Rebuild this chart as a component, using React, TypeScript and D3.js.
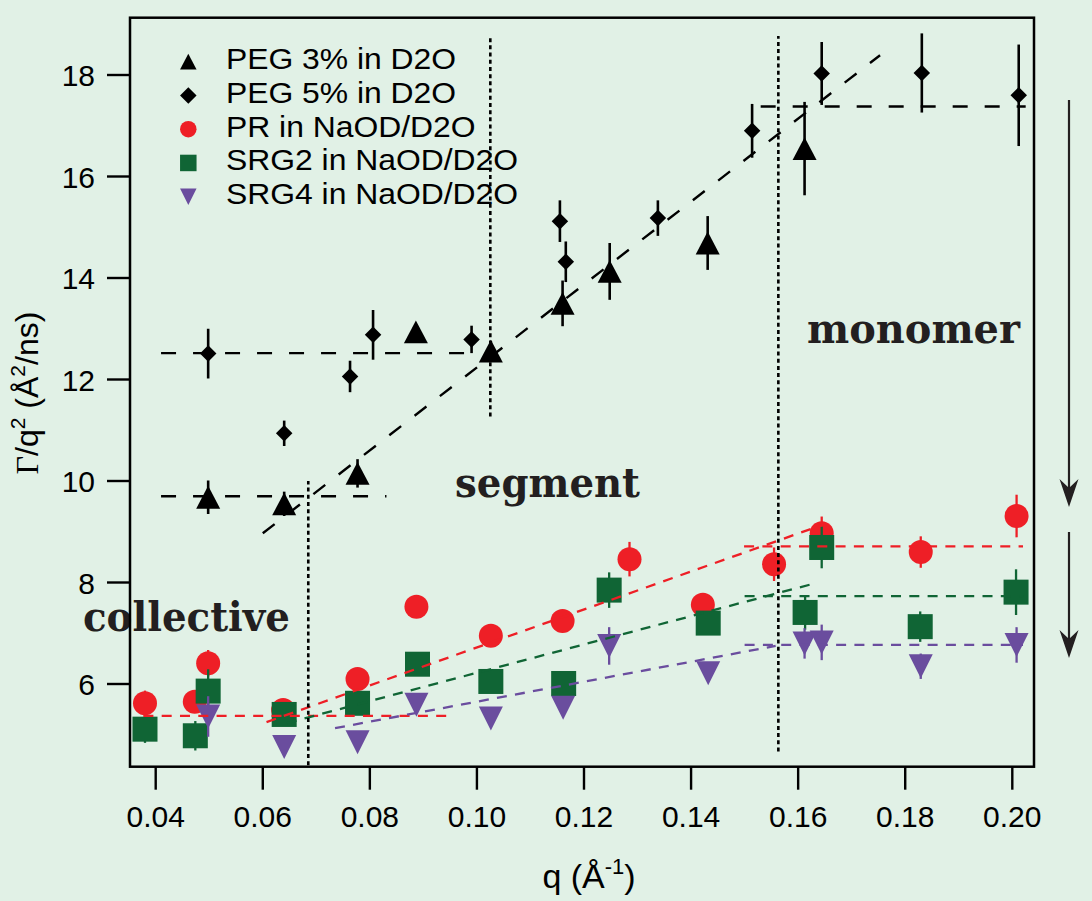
import React from "react";
import * as d3 from "d3";

// ---------- data ----------
const peg3Q = [0.0498, 0.064, 0.0777, 0.0886, 0.1026, 0.116, 0.1248, 0.1431, 0.1612];
const peg3V = [9.68, 9.55, 10.15, 12.94, 12.56, 13.5, 14.13, 14.69, 16.55];
const peg3E = [0.33, 0.24, 0.28, 0.0, 0.2, 0.45, 0.56, 0.53, 0.92];

const peg5Q = [0.0498, 0.064, 0.0763, 0.0806, 0.099, 0.1155, 0.1166, 0.1338, 0.1514, 0.1644, 0.1831, 0.2012];
const peg5V = [12.51, 10.94, 12.06, 12.88, 12.79, 15.12, 14.32, 15.18, 16.9, 18.03, 18.04, 17.6];
const peg5E = [0.49, 0.25, 0.31, 0.49, 0.27, 0.41, 0.4, 0.35, 0.53, 0.62, 0.78, 1.0];

const prQ = [0.038, 0.0473, 0.0498, 0.0638, 0.0777, 0.0887, 0.1026, 0.116, 0.1285, 0.1422, 0.1555, 0.1644, 0.1829, 0.2008];
const prV = [5.62, 5.65, 6.41, 5.49, 6.1, 7.52, 6.95, 7.24, 8.46, 7.56, 8.36, 8.97, 8.6, 9.31];
const prE = [0.25, 0.15, 0.26, 0.1, 0.15, 0.1, 0.1, 0.1, 0.34, 0.15, 0.33, 0.33, 0.31, 0.42];

const srg2Q = [0.038, 0.0474, 0.0498, 0.064, 0.0777, 0.0889, 0.1026, 0.1162, 0.1247, 0.1432, 0.1613, 0.1644, 0.1828, 0.2007];
const srg2V = [5.11, 4.98, 5.86, 5.4, 5.62, 6.39, 6.05, 6.01, 7.85, 7.2, 7.41, 8.69, 7.13, 7.81];
const srg2E = [0.27, 0.29, 0.43, 0.1, 0.1, 0.1, 0.1, 0.1, 0.35, 0.1, 0.34, 0.41, 0.3, 0.45];

const srg4Q = [0.0498, 0.064, 0.0777, 0.0887, 0.1026, 0.1161, 0.1247, 0.1432, 0.1612, 0.1644, 0.1829, 0.2008];
const srg4V = [5.36, 4.76, 4.85, 5.59, 5.32, 5.53, 6.75, 6.21, 6.8, 6.82, 6.35, 6.77];
const srg4E = [0.4, 0.1, 0.12, 0.1, 0.1, 0.1, 0.37, 0.1, 0.3, 0.35, 0.25, 0.35];

// fitted guide lines: [q1, v1, q2, v2]
const blackFits = [
  [0.041, 12.52, 0.099, 12.52],
  [0.041, 9.7, 0.0831, 9.7],
  [0.06, 8.97, 0.1753, 18.39],
  [0.153, 17.38, 0.2025, 17.38],
];
const redFits = [
  [0.0377, 5.37, 0.0956, 5.37],
  [0.0607, 5.25, 0.1644, 9.13],
  [0.1499, 8.71, 0.202, 8.71],
];
const greenFits = [
  [0.0645, 5.23, 0.163, 7.98],
  [0.15, 7.73, 0.202, 7.73],
];
const purpleFits = [
  [0.0735, 5.13, 0.1558, 6.75],
  [0.15, 6.77, 0.202, 6.77],
];
// vertical dotted boundaries: [q, vLow, vHigh]
const boundaries = [
  [0.1025, 11.27, 18.73],
  [0.0685, 4.4, 10.0],
  [0.1563, 4.67, 18.77],
];

const xTicks = [0.04, 0.06, 0.08, 0.1, 0.12, 0.14, 0.16, 0.18, 0.2];
const yTicks = [6, 8, 10, 12, 14, 16, 18];
const legendLabels = ["PEG 3% in D2O", "PEG 5% in D2O", "PR in NaOD/D2O", "SRG2 in NaOD/D2O", "SRG4 in NaOD/D2O"];
const regionLabels = ["collective", "segment", "monomer"];

// ---------- styles ----------
const W = 1092, H = 901;
const BG = "#e1f1e6";
const RED = "#ee1f26";
const GREEN = "#106535";
const PURPLE = "#6a4d9e";
const INK = "#231f20";
const SANS = "'Liberation Sans', Arial, Helvetica, sans-serif";
const SERIF = "'Liberation Serif', 'Times New Roman', serif";
const HEAVY = "'DejaVu Serif', 'Liberation Serif', serif";

const frame = { left: 130, right: 1034, top: 17.7, bottom: 766.7 };

const x = d3.scaleLinear().domain([0.04, 0.2]).range([155.7, 1012.3]);
const y = d3.scaleLinear().domain([6, 18]).range([684, 75]);

const triUp = (cx: number, cy: number, w: number, h: number) =>
  `M${cx - w / 2},${cy + h / 2}L${cx + w / 2},${cy + h / 2}L${cx},${cy - h / 2}Z`;
const triDown = (cx: number, cy: number, w: number, h: number) =>
  `M${cx - w / 2},${cy - h / 2}L${cx + w / 2},${cy - h / 2}L${cx},${cy + h / 2}Z`;
const diamond = (cx: number, cy: number, r: number) =>
  `M${cx},${cy - r}L${cx + r},${cy}L${cx},${cy + r}L${cx - r},${cy}Z`;

type Kind = "up" | "down" | "diamond" | "circle" | "square";

function Marker({ kind, cx, cy, s, color }: { kind: Kind; cx: number; cy: number; s: number; color: string }) {
  if (kind === "circle") return <circle cx={cx} cy={cy} r={s / 2} fill={color} />;
  if (kind === "square") return <rect x={cx - s / 2} y={cy - s / 2} width={s} height={s} fill={color} />;
  if (kind === "diamond") return <path d={diamond(cx, cy, s / 2)} fill={color} />;
  if (kind === "up") return <path d={triUp(cx, cy, s, s * 0.95)} fill={color} />;
  return <path d={triDown(cx, cy, s, s)} fill={color} />;
}

function Series({ qs, vs, es, kind, size, color, ew }: { qs: number[]; vs: number[]; es: number[]; kind: Kind; size: number; color: string; ew: number }) {
  return (
    <g>
      {qs.map((q, i) => (
        <g key={i}>
          {es[i] > 0 && (
            <line x1={x(q)} x2={x(q)} y1={y(vs[i] - es[i])} y2={y(vs[i] + es[i])} stroke={color} strokeWidth={ew} />
          )}
          <Marker kind={kind} cx={x(q)} cy={y(vs[i])} s={size} color={color} />
        </g>
      ))}
    </g>
  );
}

function Fits({ fits, color, dash, width }: { fits: number[][]; color: string; dash: string; width: number }) {
  return (
    <g>
      {fits.map((f, i) => (
        <line key={i} x1={x(f[0])} y1={y(f[1])} x2={x(f[2])} y2={y(f[3])} stroke={color} strokeWidth={width} strokeDasharray={dash} />
      ))}
    </g>
  );
}

function Arrow({ xa, y1, y2 }: { xa: number; y1: number; y2: number }) {
  const hl = 28, hw = 9.5, notch = 9;
  return (
    <g>
      <line x1={xa} x2={xa} y1={y1} y2={y2 - hl + notch + 2} stroke={INK} strokeWidth={2.2} />
      <path d={`M${xa},${y2}L${xa - hw},${y2 - hl}L${xa},${y2 - hl + notch}L${xa + hw},${y2 - hl}Z`} fill={INK} />
    </g>
  );
}

export default function App() {
  const legendKinds: Kind[] = ["up", "diamond", "circle", "square", "down"];
  const legendColors = ["#000", "#000", RED, GREEN, PURPLE];
  const legendY0 = 61.7, legendDy = 33.75;
  const regionPos = [
    { x: 83, y: 631, w: 207 },
    { x: 455, y: 497, w: 185 },
    { x: 807, y: 343, w: 213 },
  ];
  return (
    <div style={{ position: "absolute", left: 0, top: 0, width: W, height: H, background: BG }}>
      <svg width={W} height={H} style={{ display: "block" }}>
        <rect x={0} y={0} width={W} height={H} fill={BG} />

        {/* region labels */}
        {regionLabels.map((t, i) => (
          <text key={t} x={regionPos[i].x} y={regionPos[i].y} fontFamily={HEAVY} fontWeight={700} fontSize={41}
            fill={INK} textLength={regionPos[i].w} lengthAdjust="spacingAndGlyphs">{t}</text>
        ))}

        {/* data series */}
        <Series qs={prQ} vs={prV} es={prE} kind="circle" size={24} color={RED} ew={2.3} />
        <Series qs={srg2Q} vs={srg2V} es={srg2E} kind="square" size={25} color={GREEN} ew={2.3} />
        <Series qs={srg4Q} vs={srg4V} es={srg4E} kind="down" size={24} color={PURPLE} ew={2.3} />
        <Series qs={peg3Q} vs={peg3V} es={peg3E} kind="up" size={24} color="#000" ew={2.6} />
        <Series qs={peg5Q} vs={peg5V} es={peg5E} kind="diamond" size={16.5} color="#000" ew={2.6} />

        {/* fitted guide lines */}
        <Fits fits={redFits} color={RED} dash="10,8.3" width={2.3} />
        <Fits fits={greenFits} color={GREEN} dash="10,8.3" width={2.3} />
        <Fits fits={purpleFits} color={PURPLE} dash="10,8.3" width={2.3} />
        <Fits fits={blackFits} color="#000" dash="15,17" width={2.4} />

        {/* boundaries */}
        {boundaries.map((b, i) => (
          <line key={i} x1={x(b[0])} x2={x(b[0])} y1={y(b[1])} y2={y(b[2])} stroke="#000" strokeWidth={2.6} strokeDasharray="4,3.2" />
        ))}

        {/* frame */}
        <rect x={frame.left} y={frame.top} width={frame.right - frame.left} height={frame.bottom - frame.top}
          fill="none" stroke="#000" strokeWidth={2.5} />

        {/* x axis */}
        {xTicks.map((t) => (
          <g key={t}>
            <line x1={x(t)} x2={x(t)} y1={frame.bottom} y2={frame.bottom + 23} stroke="#000" strokeWidth={2.4} />
            <text x={x(t)} y={827.3} textAnchor="middle" fontFamily={SANS} fontSize={30} fill="#000">{t.toFixed(2)}</text>
          </g>
        ))}
        <text x={589} y={888} textAnchor="middle" fontFamily={SANS} fontSize={34} fill="#000">
          q (Å<tspan dy={-14} fontSize={22}>-1</tspan><tspan dy={14}>)</tspan>
        </text>

        {/* y axis */}
        {yTicks.map((t) => (
          <g key={t}>
            <line x1={frame.left - 23} x2={frame.left} y1={y(t)} y2={y(t)} stroke="#000" strokeWidth={2.4} />
            <text x={95} y={y(t) + 11} textAnchor="end" fontFamily={SANS} fontSize={30} fill="#000">{t}</text>
          </g>
        ))}
        <text transform="translate(38,393) rotate(-90)" textAnchor="middle" fontFamily={SANS} fontSize={32} fill="#000">
          <tspan fontFamily={SERIF}>Γ</tspan>/q<tspan dy={-13} fontSize={21}>2</tspan><tspan dy={13}> (Å</tspan>
          <tspan dy={-13} fontSize={21}>2</tspan><tspan dy={13}>/ns)</tspan>
        </text>

        {/* legend */}
        {legendLabels.map((l, i) => {
          const cy = legendY0 + i * legendDy;
          return (
            <g key={l}>
              <Marker kind={legendKinds[i]} cx={188.3} cy={cy} s={16.5} color={legendColors[i]} />
              <text x={226} y={cy + 7.5} fontFamily={SANS} fontSize={29.5} fill="#000"
                transform={`translate(226,0) scale(1.08,1) translate(-226,0)`}>{l}</text>
            </g>
          );
        })}

        {/* arrows at right edge */}
        <Arrow xa={1069} y1={100} y2={507} />
        <Arrow xa={1069} y1={532} y2={658} />
      </svg>
    </div>
  );
}
